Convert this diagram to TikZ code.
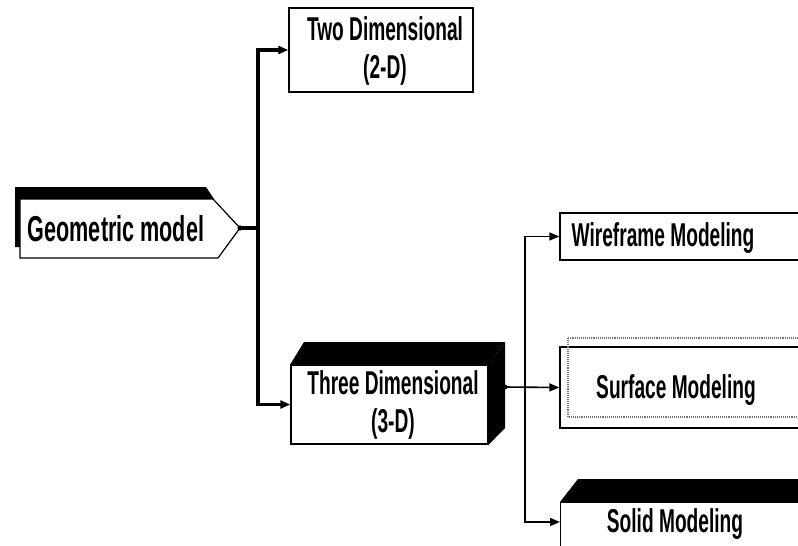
\documentclass[tikz,border=0pt]{standalone}
\usepackage{fontspec}
\newfontfamily\lblfont[FakeStretch=0.58]{Liberation Sans Bold}
\newfontfamily\rootfont[FakeStretch=0.6]{Liberation Sans Bold}
\usetikzlibrary{arrows.meta}
\begin{document}
\begin{tikzpicture}[x=1pt,y=-1pt,
  box/.style={draw=black, line width=1.4pt, fill=white, rectangle, inner sep=0pt},
  txt/.style={font=\lblfont\fontsize{33}{38}\selectfont, align=center, inner sep=0pt},
  bigtxt/.style={font=\rootfont\fontsize{36}{40}\selectfont, align=center, inner sep=0pt},
  trunk/.style={line width=3.5pt},
  branch/.style={line width=1.6pt},
  tip/.style={-{Triangle[length=10pt,width=8pt]}},
  extrude/.style={fill=black}]
\fill[white] (0,0) rectangle (798,546);
\useasboundingbox (0,0) rectangle (798,546);
\clip (0,0) rectangle (798,546);

% root: arrow-shaped box with a dark edge on top and left
\fill[extrude] (15,187) -- (206,187) -- (214,199) -- (20,199) -- (20,247) -- (15,247) -- cycle;
\draw[line width=1.2pt, fill=white] (20,199) -- (213,199) -- (240,228) -- (218,258) -- (20,258) -- cycle;
\node[bigtxt] (geo) at (116,229) {Geometric model};
\coordinate (geotip) at (240,228);
\coordinate (j1) at (258,228);

% first level
\node[box, minimum width=184pt, minimum height=84pt] (two) at (381,50) {};
\node[txt] (twotxt) at (385,51) {Two Dimensional\\(2-D)};

\node[box, minimum width=197pt, minimum height=79pt] (three) at (389.5,404.5) {};
\fill[extrude] (three.north west) -- (304,342) -- (505,342) -- (three.north east) -- cycle;
\fill[extrude] (three.north east) -- (505,342) -- (505,428) -- (three.south east) -- cycle;
\node[txt] (threetxt) at (393,405) {Three Dimensional\\(3-D)};
\coordinate (threedot) at (505,387);
\coordinate (j2) at (525,387);

% second level (boxes run past the right edge)
\node[box, minimum width=252pt, minimum height=47pt] (wire) at (686,236.5) {};
\node[txt] (wiretxt) at (663,238) {Wireframe Modeling};

\node[box, minimum width=252pt, minimum height=81pt] (surf) at (686,387.5) {};
\draw[black!55, densely dotted, line width=1.1pt] (568,338) rectangle (812,417);
\node[txt] (surftxt) at (676,390) {Surface Modeling};

\fill[extrude] (560,502) -- (578,479) -- (812,479) -- (812,502) -- cycle;
\node[box, minimum width=252pt, minimum height=70pt, anchor=north west] (solid) at (560,502) {};
\node[txt] (solidtxt) at (675,524) {Solid Modeling};
\coordinate (solidin) at (560,522);

% connectors
\fill (geotip) circle (2.6pt);
\draw[trunk] (geotip) -- (j1);
\draw[trunk, tip] (j1) |- (two.west);
\draw[trunk, tip] (j1) |- (three.west);

\fill (threedot) circle (2.4pt);
\draw[branch, tip] (threedot) -- (surf.west);
\draw[branch, tip] (j2) |- (wire.west);
\draw[branch, tip] (j2) |- (solidin);
\end{tikzpicture}
\end{document}
